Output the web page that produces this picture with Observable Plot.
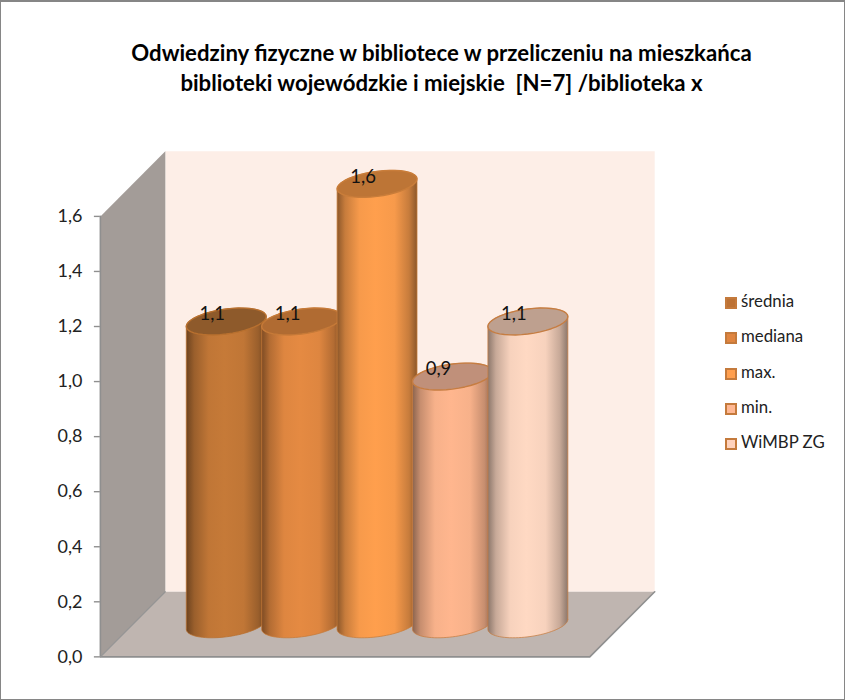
<!DOCTYPE html>
<html><head><meta charset="utf-8">
<script src="https://cdn.jsdelivr.net/npm/d3@7"></script>
<script src="https://cdn.jsdelivr.net/npm/@observablehq/plot@0.6"></script>
<style>
html,body{margin:0;background:#fff}
#frame{position:relative;width:845px;height:700px;box-sizing:border-box;border:solid #868686;border-width:2px 1px 1px 1px;font-family:Lato,sans-serif;overflow:hidden}
#title{position:absolute;left:0;top:0;width:843px;height:128px;box-sizing:border-box;padding-top:36px;padding-left:38px;text-align:center;font-weight:700;font-size:22.2px;line-height:30px;color:#000;white-space:pre}
#chart{position:absolute;left:-1px;top:126px}
#legend{position:absolute;left:724px;top:291px;font-size:16.8px;color:#222}
#legend .row{position:absolute;left:0;white-space:nowrap;line-height:20px;height:20px}
#legend i{position:absolute;left:0;top:4px;width:8px;height:8px;border:2px solid #c47a3c;display:block}
#legend span{position:absolute;left:16px;top:-2px}
svg text{font-family:Lato,sans-serif}
</style></head><body>
<div id="frame"><div id="title"></div><div id="chart"></div><div id="legend"></div></div>
<script>
const titleLines = ["Odwiedziny fizyczne w bibliotece w przeliczeniu na mieszkańca","biblioteki wojewódzkie i miejskie  [N=7] /biblioteka x"];
const series = ["średnia","mediana","max.","min.","WiMBP ZG"];
const values = [1.1,1.1,1.6,0.9,1.1];
const valueLabels = ["1,1","1,1","1,6","0,9","1,1"];
const bodyColors = ["#c67a38","#e58a42","#ff9f4d","#ffb68e","#ffd9c3"];
const topColors = ["#8e5a2b","#b06b32","#bd7536","#c0907a","#bea08f"];
const swatchColors = ["#bd7235","#e08540","#ff9f4f","#ffb894","#ffd2bc"];
const strokeColors = ["#b8702f","#c67a38","#c97d3a","#c67d42","#c67d42"];
const yTicks = [0,0.2,0.4,0.6,0.8,1.0,1.2,1.4,1.6];

const svgTop = 128;
const yMax = 1.6;
// plot box, in axis units: x is the category index, y is the value
const frontLeft = -1.669, boxWidth = 6.49, depthX = 0.861, depthY = 0.2364;
const halfW = 0.53, tilt = 0.018, semi = 0.0455;

function ring(cx, cy, from, to){
  const out = [];
  for (let k = 0; k <= 40; k++){
    const th = from + (to - from) * k / 40;
    out.push([cx + halfW * Math.cos(th), cy + tilt * Math.cos(th) - semi * Math.sin(th)]);
  }
  return out;
}
const mid = depthY / 2;
const backWall = [[frontLeft+depthX,depthY],[frontLeft+depthX+boxWidth,depthY],[frontLeft+depthX+boxWidth,yMax+depthY],[frontLeft+depthX,yMax+depthY]];
const leftWall = [[frontLeft,0],[frontLeft+depthX,depthY],[frontLeft+depthX,yMax+depthY],[frontLeft,yMax]];
const floor = [[frontLeft,0],[frontLeft+boxWidth,0],[frontLeft+boxWidth+depthX,depthY],[frontLeft+depthX,depthY]];
const poly = (pts, o) => Plot.line([...pts, pts[0]], {x:d=>d[0], y:d=>d[1], ...o});

const shade = (c, k) => { const r = d3.rgb(c); return d3.rgb(r.r*k, r.g*k, r.b*k).formatHex(); };
const defs = () => {
  const d = d3.create("svg:defs");
  bodyColors.forEach((c,i)=>{
    const g = d.append("linearGradient").attr("id","g"+i).attr("x1",0).attr("x2",1).attr("y1",0).attr("y2",0);
    [[0,0.55],[0.1,0.78],[0.28,0.97],[0.48,1],[0.72,0.97],[0.9,0.78],[1,0.55]].forEach(([o,k])=>g.append("stop").attr("offset",o).attr("stop-color",shade(c,k)));
  });
  return d.node();
};

const bodyMark = i => {
  const base = mid, top = values[i] + mid;
  return poly([...ring(i,base,0,Math.PI), ...ring(i,top,Math.PI,2*Math.PI)],{fill:`url(#g${i})`,stroke:strokeColors[i],strokeWidth:1,strokeOpacity:0.75});
};
const topMark = i => poly(ring(i,values[i]+mid,0,2*Math.PI),{fill:topColors[i],stroke:strokeColors[i],strokeWidth:1.4});

const plot = Plot.plot({
  width:845, height:700-svgTop, marginLeft:100, marginRight:0, marginTop:0, marginBottom:0,
  style:{background:"transparent",overflow:"visible"},
  x:{domain:[0,4],range:[226,528],axis:null},
  y:{domain:[0,yMax],range:[657-svgTop,216-svgTop],axis:null},
  marks:[
    defs,
    poly(backWall,{fill:"#fdeee7"}),
    poly(leftWall,{fill:"#a39c98"}),
    poly(floor,{fill:"#bfb5b0"}),
    Plot.line([[frontLeft,yMax],[frontLeft,0],[frontLeft+boxWidth,0],[frontLeft+boxWidth+depthX,depthY]],{x:d=>d[0],y:d=>d[1],stroke:"#8f8f8f",strokeWidth:1.6}),
    Plot.line([[frontLeft,0],[frontLeft+depthX,depthY]],{x:d=>d[0],y:d=>d[1],stroke:"#949494",strokeWidth:1.2}),
    Plot.axisY(yTicks,{anchor:"left",x:frontLeft,tickSize:6,tickPadding:12,stroke:"#8f8f8f",strokeWidth:1.4,tickFormat:d=>d3.format(".1f")(d).replace(".",","),fontSize:18,fill:"#222",label:null}),
    bodyMark(0), bodyMark(1), topMark(1), topMark(0),
    bodyMark(2), topMark(2), bodyMark(3), topMark(3), bodyMark(4), topMark(4),
    Plot.text(values,{x:(d,i)=>i,y:d=>d+mid,text:(d,i)=>valueLabels[i],dx:-14,dy:-7,fontSize:18.5,fill:"#111",lineAnchor:"middle"})
  ]
});
document.getElementById("chart").append(plot);
document.getElementById("title").textContent = titleLines.join("\n");
const leg = document.getElementById("legend");
series.forEach((s,i)=>{
  const r=document.createElement("div"); r.className="row"; r.style.top=(i*35.3)+"px";
  r.innerHTML=`<i style="background:${swatchColors[i]}"></i><span>${s}</span>`;
  leg.append(r);
});
</script></body></html>
